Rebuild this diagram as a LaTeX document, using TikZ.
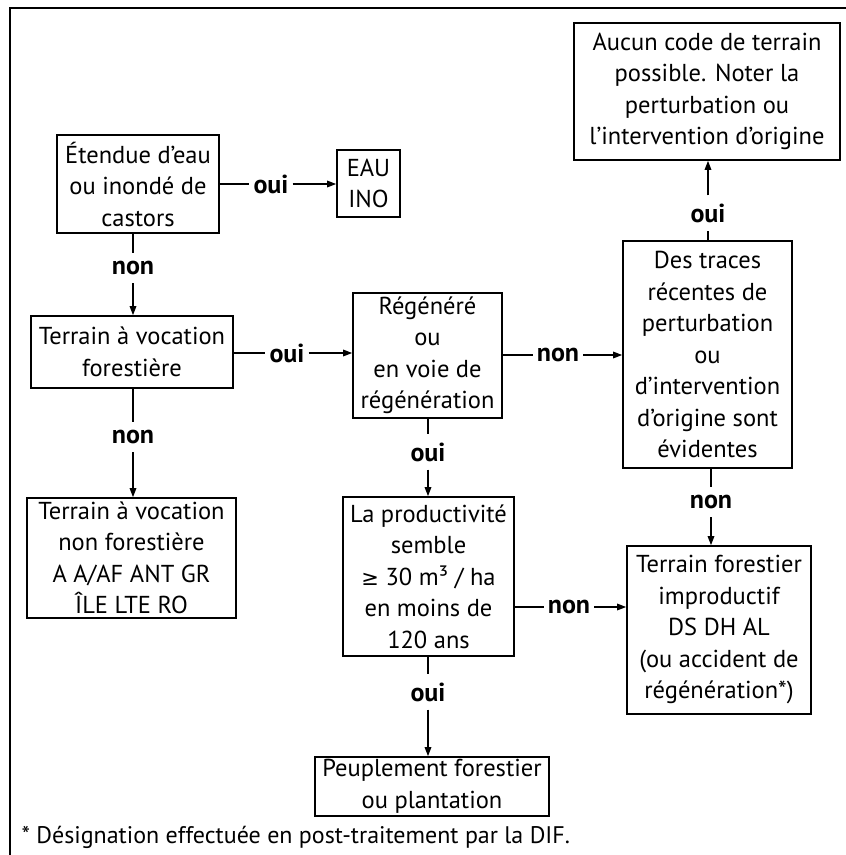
\documentclass[tikz,border=0pt]{standalone}
\usepackage{fontspec}
\setmainfont{PT Sans}
\newfontfamily\symfont{DejaVu Sans}
\usetikzlibrary{arrows.meta}
\begin{document}
\begin{tikzpicture}[x=1pt,y=-1pt,
  box/.style={draw, line width=1.6pt, align=center, inner sep=0pt,
    font=\fontsize{24.5}{31.5}\selectfont},
  lab/.style={font=\fontsize{26}{30}\selectfont\bfseries, inner xsep=4pt, inner ysep=8pt},
  con/.style={line width=1.5pt},
  arr/.style={con, -{Triangle[length=9pt,width=6.5pt]}},
  frame/.style={line width=2pt}]
\useasboundingbox (0,0) rectangle (846,855);
\coordinate (fa) at (10,855);
\coordinate (fb) at (10,8);
\coordinate (fc) at (846,8);
\draw[frame] (fa) -- (fb) -- (fc);

\node[box, minimum width=162pt, minimum height=98pt] (b1) at (138,184)
  {Étendue d’eau\\ou inondé de\\castors};
\node[box, minimum width=63pt, minimum height=67pt] (eau) at (368.5,183.5)
  {EAU\\INO};
\node[box, minimum width=202pt, minimum height=72pt] (b2) at (132,352)
  {Terrain à vocation\\forestière};
\node[box, minimum width=209pt, minimum height=120pt] (b3) at (131.5,558)
  {Terrain à vocation\\non forestière\\A A/AF ANT GR\\ÎLE LTE RO};
\node[box, minimum width=149pt, minimum height=125pt] (b4) at (427.5,355.5)
  {Régénéré\\ou\\en voie de\\régénération};
\node[box, minimum width=171pt, minimum height=159pt] (b5) at (428.5,576.5)
  {La productivité\\semble\\{\symfont\fontsize{21}{31.5}\selectfont ≥} 30 m³ / ha\\en moins de\\120 ans};
\node[box, minimum width=184pt, minimum height=168pt] (b6) at (719,630)
  {Terrain forestier\\improductif\\DS DH AL\\(ou accident de\\régénération*)};
\node[box, minimum width=169pt, minimum height=227pt] (b7) at (707.5,354.5)
  {Des traces\\récentes de\\perturbation\\ou\\d’intervention\\d’origine sont\\évidentes};
\node[box, minimum width=266pt, minimum height=137pt] (b8) at (707,91.5)
  {Aucun code de terrain\\possible. Noter la\\perturbation ou\\l’intervention d’origine};
\node[box, minimum width=234pt, minimum height=59pt] (b9) at (432,786.5)
  {Peuplement forestier\\ou plantation};

\node[anchor=west, font=\fontsize{24}{28}\selectfont] (fn) at (18,837)
  {* Désignation effectuée en post-traitement par la DIF.};

% labels
\node[lab] (lA) at (271,184) {oui};
\node[lab] (lB) at (133,268) {non};
\node[lab] (lC) at (287,353) {oui};
\node[lab] (lD) at (133,437) {non};
\node[lab] (lE) at (428,452) {oui};
\node[lab] (lF) at (558,355) {non};
\node[lab] (lG) at (708,213) {oui};
\node[lab] (lH) at (711,502) {non};
\node[lab] (lI) at (569,607) {non};
\node[lab] (lJ) at (428,692) {oui};

% connectors
\draw[con] (b1.east |- lA) -- (lA);
\draw[arr] (lA) -- (eau.west |- lA);
\draw[con] (lB |- b1.south) -- (lB);
\draw[arr] (lB) -- (lB |- b2.north);
\draw[con] (b2.east |- lC) -- (lC);
\draw[arr] (lC) -- (b4.west |- lC);
\draw[con] (lD |- b2.south) -- (lD);
\draw[arr] (lD) -- (lD |- b3.north);
\draw[con] (lE |- b4.south) -- (lE);
\draw[arr] (lE) -- (lE |- b5.north);
\draw[con] (b4.east |- lF) -- (lF);
\draw[arr] (lF) -- (b7.west |- lF);
\draw[con] (lG |- b7.north) -- (lG);
\draw[arr] (lG) -- (lG |- b8.south);
\draw[con] (lH |- b7.south) -- (lH);
\draw[arr] (lH) -- (lH |- b6.north);
\draw[con] (b5.east |- lI) -- (lI);
\draw[arr] (lI) -- (b6.west |- lI);
\draw[con] (lJ |- b5.south) -- (lJ);
\draw[arr] (lJ) -- (lJ |- b9.north);
\end{tikzpicture}
\end{document}
